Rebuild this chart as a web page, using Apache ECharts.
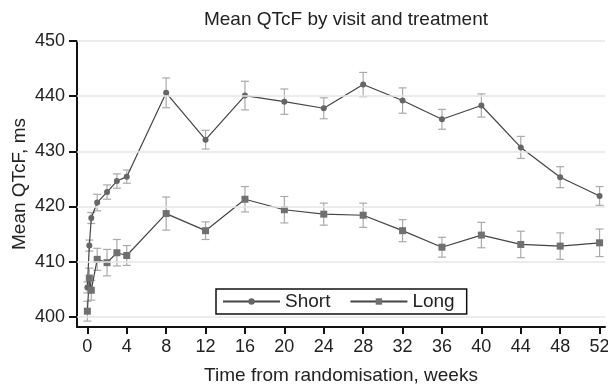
<!DOCTYPE html>
<html>
<head>
<meta charset="utf-8">
<script src="https://cdn.jsdelivr.net/npm/echarts@6/dist/echarts.min.js"></script>
<style>
  html, body { margin: 0; padding: 0; background: #fff; }
  #chart { width: 608px; height: 389px; }
</style>
</head>
<body>
<div id="chart"></div>
<script>
// visit times (weeks)
var weeks = [0, 0.2, 0.4, 1, 2, 3, 4, 8, 12, 16, 20, 24, 28, 32, 36, 40, 44, 48, 52];
// mean QTcF and half-width of error bar
var shortMean = [405.3, 412.9, 417.9, 420.7, 422.6, 424.6, 425.4, 440.6, 432.1, 440.1, 439.0, 437.8, 442.1, 439.2, 435.8, 438.3, 430.7, 425.3, 421.9];
var shortErr  = [1.0, 1.0, 1.0, 1.5, 1.3, 1.3, 1.2, 2.7, 1.7, 2.6, 2.3, 1.9, 2.2, 2.3, 1.8, 2.1, 2.0, 1.9, 1.7];
var longMean  = [401.0, 407.0, 404.8, 410.4, 409.8, 411.6, 411.1, 418.7, 415.6, 421.3, 419.4, 418.6, 418.4, 415.6, 412.6, 414.8, 413.1, 412.8, 413.4];
var longErr   = [1.8, 1.8, 1.8, 2.0, 2.4, 2.4, 1.8, 3.0, 1.6, 2.3, 2.4, 2.0, 2.2, 2.0, 1.8, 2.3, 2.4, 2.4, 2.5];
var xTicks = [0, 4, 8, 12, 16, 20, 24, 28, 32, 36, 40, 44, 48, 52];
var yTicks = [400, 410, 420, 430, 440, 450];

var fontFam = "'Liberation Sans', Arial, sans-serif";

function pairs(xs, ys) {
  return xs.map(function (x, i) { return [x, ys[i]]; });
}
function errData(xs, m, e) {
  return xs.map(function (x, i) { return [x, m[i] - e[i], m[i] + e[i]]; });
}
// error bar with caps
function renderErr(params, api) {
  var lo = api.coord([api.value(0), api.value(1)]);
  var hi = api.coord([api.value(0), api.value(2)]);
  var cap = 4;
  var st = { stroke: "#aaaaaa", lineWidth: 1.2 };
  return {
    type: "group",
    children: [
      { type: "line", shape: { x1: lo[0], y1: lo[1], x2: hi[0], y2: hi[1] }, style: st },
      { type: "line", shape: { x1: lo[0] - cap, y1: lo[1], x2: lo[0] + cap, y2: lo[1] }, style: st },
      { type: "line", shape: { x1: hi[0] - cap, y1: hi[1], x2: hi[0] + cap, y2: hi[1] }, style: st }
    ]
  };
}

var myChart = echarts.init(document.getElementById("chart"));
myChart.setOption({
  animation: false,
  title: {
    text: "Mean QTcF by visit and treatment",
    left: 341,
    textAlign: "center",
    top: 5,
    textStyle: { fontFamily: fontFam, fontSize: 19, fontWeight: "normal", color: "#222" }
  },
  grid: { left: 77, right: 3, top: 41, bottom: 62, outerBoundsMode: "none", containLabel: false },
  legend: {
    data: ["Short", "Long"],
    left: 216,
    top: 289,
    backgroundColor: "#fff",
    borderColor: "#111",
    borderWidth: 1.5,
    borderRadius: 0,
    padding: [3, 12, 3, 6],
    itemWidth: 57,
    itemHeight: 8,
    itemGap: 19,
    textStyle: { fontFamily: fontFam, fontSize: 19, color: "#222" }
  },
  xAxis: {
    type: "value",
    min: -1.05,
    max: 52.55,
    name: "Time from randomisation, weeks",
    nameLocation: "middle",
    nameGap: 39,
    nameMoveOverlap: false,
    nameTextStyle: { fontFamily: fontFam, fontSize: 19, color: "#222" },
    axisLine: { show: true, onZero: false, lineStyle: { color: "#111", width: 2 } },
    axisTick: { show: true, length: 7, customValues: xTicks, lineStyle: { color: "#111", width: 2 } },
    axisLabel: { customValues: xTicks, margin: 11, fontFamily: fontFam, fontSize: 18, color: "#222" },
    splitLine: { show: false }
  },
  yAxis: {
    type: "value",
    min: 398.13,
    max: 450,
    name: "Mean QTcF, ms",
    nameLocation: "middle",
    nameGap: 48,
    nameMoveOverlap: false,
    nameTextStyle: { fontFamily: fontFam, fontSize: 19, color: "#222" },
    axisLine: { show: true, onZero: false, lineStyle: { color: "#111", width: 2 } },
    axisTick: { show: true, length: 8, customValues: yTicks, lineStyle: { color: "#111", width: 2 } },
    axisLabel: { customValues: yTicks, margin: 12, fontFamily: fontFam, fontSize: 18, color: "#222" },
    splitLine: { show: false }
  },
  series: [
    {
      name: "grid",
      type: "line",
      data: [],
      z: 0,
      markLine: {
        silent: true,
        symbol: "none",
        label: { show: false },
        lineStyle: { color: "#e6e6e6", width: 1.5, type: "solid" },
        data: yTicks.map(function (v) { return { yAxis: v }; })
      }
    },
    {
      name: "shortErr",
      type: "custom",
      renderItem: renderErr,
      data: errData(weeks, shortMean, shortErr),
      z: 1
    },
    {
      name: "longErr",
      type: "custom",
      renderItem: renderErr,
      data: errData(weeks, longMean, longErr),
      z: 1
    },
    {
      name: "Short",
      type: "line",
      data: pairs(weeks, shortMean),
      symbol: "circle",
      symbolSize: 6,
      itemStyle: { color: "#666" },
      lineStyle: { color: "#444", width: 1.2 },
      z: 3
    },
    {
      name: "Long",
      type: "line",
      data: pairs(weeks, longMean),
      symbol: "rect",
      symbolSize: 7,
      itemStyle: { color: "#707070" },
      lineStyle: { color: "#444", width: 1.2 },
      z: 3
    }
  ]
});
</script>
</body>
</html>
